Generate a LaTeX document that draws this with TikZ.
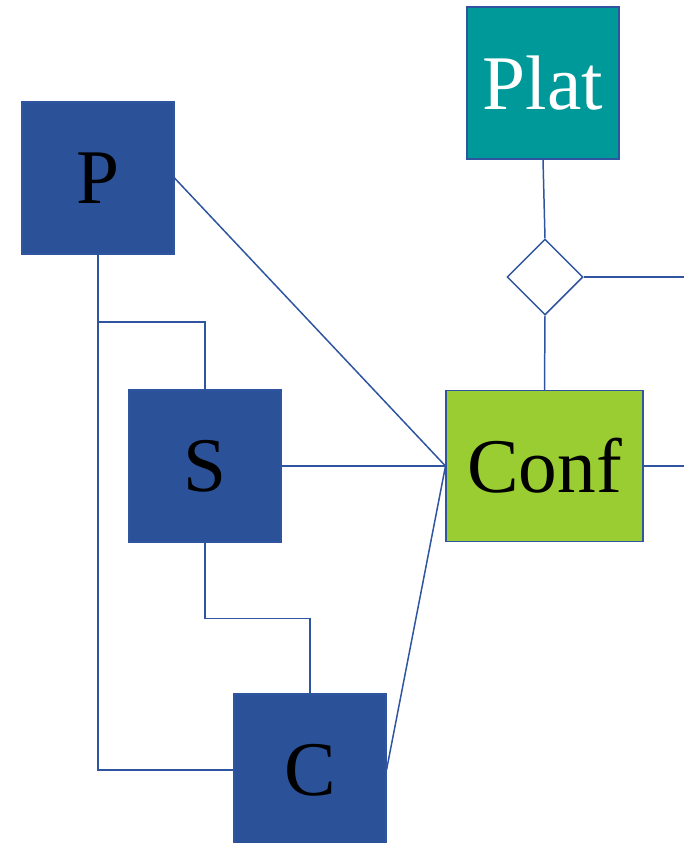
\documentclass[tikz,border=0pt]{standalone}
\usepackage{fontspec}
\setmainfont{Liberation Serif}
\usetikzlibrary{shapes.geometric}

\definecolor{entblue}{HTML}{2B5298}
\definecolor{platteal}{HTML}{009999}
\definecolor{confgreen}{HTML}{9ACD32}
\definecolor{linkblue}{HTML}{3055A0}

\tikzset{
	entity/.style = {draw=linkblue, line width=0.6pt, fill=entblue, minimum width=3.04cm, minimum height=3.04cm,
		inner sep=0pt, font=\fontsize{44}{48}\selectfont},
	relation/.style = {draw=linkblue, line width=0.85pt, fill=white, diamond, minimum size=1.52cm, inner sep=0pt},
	link/.style = {draw=linkblue, line width=0.85pt}
}

\begin{document}
\begin{tikzpicture}[x = 0.02cm, y = -0.02cm]

\useasboundingbox (0, 0) rectangle (684, 843);

\node[entity] (p) at (98, 178) {P};
\node[entity] (s) at (205, 466) {S};
\node[entity] (c) at (310, 770) {C};
\node[entity, fill=platteal, text=white] (plat) at (543, 83) {Plat};
\node[entity, fill=confgreen, minimum width=3.94cm, minimum height=3.02cm] (conf) at (544.5, 466) {Conf};
\node[relation] (rel) at (545, 277) {};

\coordinate (pk) at (98, 322);
\coordinate (relend) at (684, 277);
\coordinate (confend) at (684, 466);

\draw[link] (plat.south) -- (rel.north);
\draw[link] (rel.south) -- (conf.north);
\draw[link] (rel.east) -- (relend);
\draw[link] (conf.east) -- (confend);

\draw[link] (p.east) -- (conf.west);
\draw[link] (s.east) -- (conf.west);
\draw[link] (c.east) -- (conf.west);

\draw[link] (p.south) -- (pk) -| (s.north);
\draw[link] (pk) |- (c.west);
\draw[link] (s.south) -- ++(0, 76) -| (c.north);

\end{tikzpicture}
\end{document}
